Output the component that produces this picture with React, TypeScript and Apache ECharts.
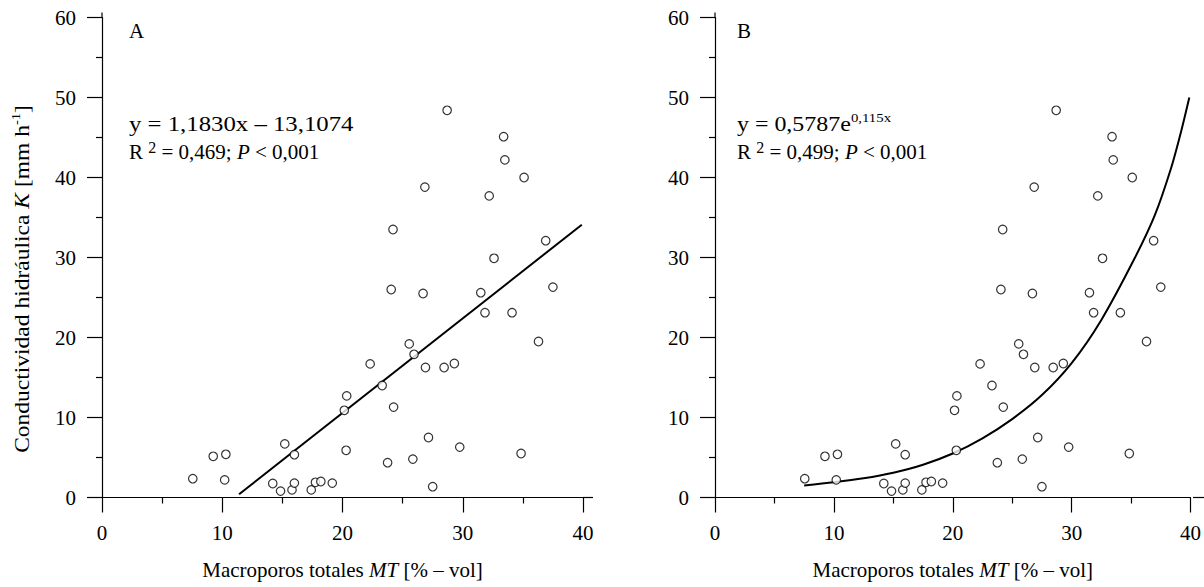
import React, { useEffect, useRef } from "react";
import * as echarts from "echarts";

// Macroporos totales MT [% vol] and Conductividad hidráulica K [mm h-1]
const mtValues = [
  28.7, 33.4, 33.5, 35.1, 26.85, 32.2, 24.2, 36.9, 32.6, 24.05, 26.7, 31.5, 37.5,
  31.85, 34.1, 36.3, 25.55, 25.95, 22.3, 26.9, 28.45, 29.3, 23.3, 20.35, 20.15,
  24.25, 27.15, 29.75, 15.2, 16.0, 20.3, 34.85, 9.25, 10.3, 23.75, 25.85, 7.55,
  10.2, 14.2, 14.85, 15.8, 16.0, 17.4, 17.75, 18.2, 19.15, 27.5,
];
const kValues = [
  48.4, 45.1, 42.2, 40.0, 38.8, 37.7, 33.5, 32.1, 29.9, 26.0, 25.5, 25.6, 26.3,
  23.1, 23.1, 19.5, 19.2, 17.9, 16.7, 16.25, 16.25, 16.75, 14.0, 12.7, 10.9,
  11.3, 7.5, 6.3, 6.7, 5.35, 5.9, 5.5, 5.15, 5.4, 4.35, 4.8, 2.35,
  2.2, 1.75, 0.8, 0.95, 1.8, 0.95, 1.9, 2.0, 1.8, 1.35,
];

// Linear fit line (panel A) endpoints as drawn
const linearFitX = [11.4, 39.9];
const linearFitY = [0.4, 34.1];

// Exponential fit curve (panel B)
const expFitX = [7.5, 10.0, 12.5, 15.0, 17.5, 20.0, 22.5, 25.0, 27.5, 30.0, 32.5, 35.3, 37.0, 38.35, 39.2, 39.9];
const expFitY = [1.5, 1.9, 2.4, 3.1, 4.1, 5.5, 7.4, 9.8, 12.8, 16.8, 22.2, 29.9, 35.3, 41.1, 45.7, 50.0];

const xTicks = { min: 0, max: 40, interval: 10 };
const yTicks = { min: 0, max: 60, interval: 10 };

const panelLabels = ["A", "B"];
const xAxisTitle = "Macroporos totales ";
const yAxisTitle = "Conductividad hidráulica ";

const FONT = "Liberation Serif";
const FS = 21;

export default function App() {
  const ref = useRef<HTMLDivElement>(null);

  useEffect(() => {
    if (!ref.current) return;
    const chart = echarts.init(ref.current, undefined, { renderer: "svg" });

    const points = mtValues.map((x, i) => [x, kValues[i]]);
    const lin = linearFitX.map((x, i) => [x, linearFitY[i]]);
    const expc = expFitX.map((x, i) => [x, expFitY[i]]);

    const grids = [
      { left: 102, top: 17.5, width: 481, height: 480 },
      { left: 715, top: 17.5, width: 478, height: 480 },
    ];

    const axisLine = { show: true, lineStyle: { color: "#000", width: 1.2 } };

    const mkX = (gi: number) => ({
      type: "value",
      gridIndex: gi,
      min: xTicks.min,
      max: xTicks.max,
      interval: xTicks.interval,
      axisLine,
      axisTick: { show: true, length: 15, lineStyle: { color: "#000", width: 1.2 } },
      minorTick: { show: true, splitNumber: 2, length: 6, lineStyle: { color: "#000", width: 1.2 } },
      splitLine: { show: false },
      minorSplitLine: { show: false },
      axisLabel: { color: "#000", fontSize: FS, fontFamily: FONT, margin: 25 },
      name: "{n|" + xAxisTitle + "}{i|MT}{n| [% – vol]}",
      nameLocation: "middle",
      nameGap: 62,
      nameTextStyle: {
        color: "#000",
        fontFamily: FONT,
        fontSize: FS,
        rich: {
          n: { fontFamily: FONT, fontSize: FS, color: "#000" },
          i: { fontFamily: FONT, fontSize: FS, color: "#000", fontStyle: "italic" },
        },
      },
    });

    const mkY = (gi: number) => ({
      type: "value",
      gridIndex: gi,
      min: yTicks.min,
      max: yTicks.max,
      interval: yTicks.interval,
      axisLine,
      axisTick: { show: true, length: 15, lineStyle: { color: "#000", width: 1.2 } },
      minorTick: { show: true, splitNumber: 2, length: 6, lineStyle: { color: "#000", width: 1.2 } },
      splitLine: { show: false },
      minorSplitLine: { show: false },
      axisLabel: { color: "#000", fontSize: FS, fontFamily: FONT, margin: 26 },
    });

    const scatterStyle = {
      type: "scatter",
      symbol: "circle",
      symbolSize: 8.5,
      itemStyle: { color: "#fff", borderColor: "#000", borderWidth: 1.2 },
      z: 3,
    };

    const rich = {
      n: { fontFamily: FONT, fontSize: FS, fill: "#000", lineHeight: 26 },
      i: { fontFamily: FONT, fontSize: FS, fill: "#000", fontStyle: "italic", lineHeight: 26 },
      s: { fontFamily: FONT, fontSize: 16, fill: "#000", verticalAlign: "top", lineHeight: 26 },
      e: { fontFamily: FONT, fontSize: 13, fill: "#000", verticalAlign: "top", lineHeight: 26 },
    };

    const txt = (x: number, y: number, text: string, scaleX = 1) => ({
      type: "text",
      x,
      y,
      scaleX,
      style: {
        text,
        fill: "#000",
        fontFamily: FONT,
        fontSize: FS,
        align: "left",
        verticalAlign: "middle",
        rich,
      },
    });

    const option: any = {
      animation: false,
      backgroundColor: "#fff",
      grid: grids,
      xAxis: [mkX(0), mkX(1)],
      yAxis: [mkY(0), mkY(1)],
      series: [
        { ...scatterStyle, xAxisIndex: 0, yAxisIndex: 0, data: points },
        {
          type: "line",
          xAxisIndex: 0,
          yAxisIndex: 0,
          data: lin,
          showSymbol: false,
          symbol: "none",
          lineStyle: { color: "#000", width: 2 },
          z: 2,
        },
        { ...scatterStyle, xAxisIndex: 1, yAxisIndex: 1, data: points },
        {
          type: "line",
          xAxisIndex: 1,
          yAxisIndex: 1,
          data: expc,
          smooth: 0.3,
          showSymbol: false,
          symbol: "none",
          lineStyle: { color: "#000", width: 2 },
          z: 2,
        },
      ],
      graphic: [
        { type: "line", shape: { x1: 583, y1: 497.5, x2: 593, y2: 497.5 }, style: { stroke: "#000", lineWidth: 1.2 } },
        { type: "line", shape: { x1: 1193, y1: 497.5, x2: 1204, y2: 497.5 }, style: { stroke: "#000", lineWidth: 1.2 } },
        { type: "line", shape: { x1: 102, y1: 12.5, x2: 102, y2: 17.5 }, style: { stroke: "#000", lineWidth: 1.2 } },
        { type: "line", shape: { x1: 715, y1: 12.5, x2: 715, y2: 17.5 }, style: { stroke: "#000", lineWidth: 1.2 } },
        txt(129, 31, "{n|" + panelLabels[0] + "}"),
        txt(737, 31, "{n|" + panelLabels[1] + "}"),
        txt(129, 124, "{n|y = 1,1830x – 13,1074}", 1.18),
        txt(129, 152, "{n|R }{s|2}{n| = 0,469; }{i|P}{n| < 0,001}"),
        txt(737, 124, "{n|y = 0,5787e}{e|0,115x}", 1.14),
        txt(737, 152, "{n|R }{s|2}{n| = 0,499; }{i|P}{n| < 0,001}"),
        {
          type: "text",
          x: 22,
          y: 279,
          rotation: Math.PI / 2,
          scaleX: 1.12,
          style: {
            text: "{n|" + yAxisTitle + "}{i|K}{n| [mm h}{e|-1}{n|]}",
            fill: "#000",
            fontFamily: FONT,
            fontSize: FS,
            align: "center",
            verticalAlign: "middle",
            rich,
          },
        },
      ],
    };

    chart.setOption(option);
    return () => chart.dispose();
  }, []);

  return (
    <div
      ref={ref}
      style={{ position: "fixed", left: 0, top: 0, width: 1204, height: 587, background: "#fff" }}
    />
  );
}
